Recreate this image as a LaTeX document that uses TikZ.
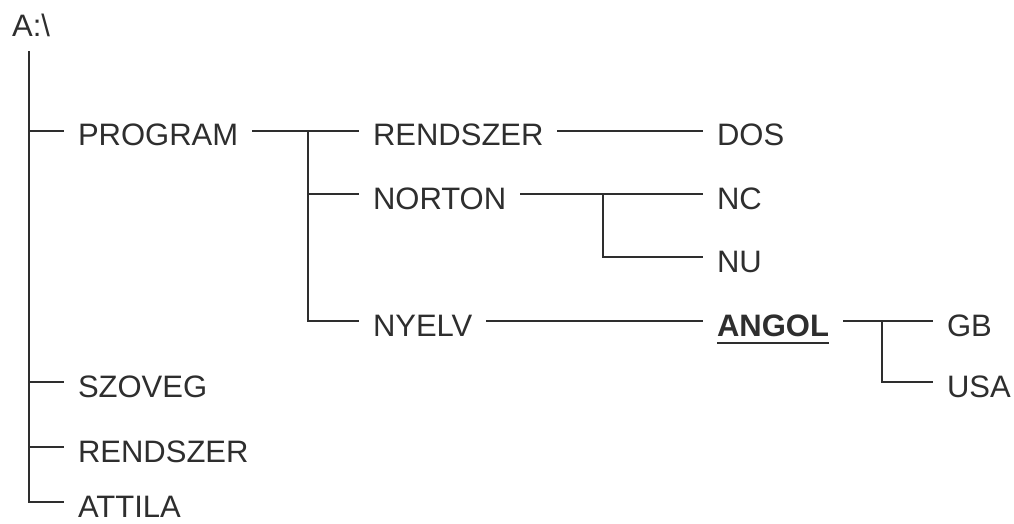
\documentclass[tikz,border=0pt]{standalone}
\usepackage{fontspec}
\setmainfont{Liberation Sans}
\definecolor{ink}{HTML}{2E2E2E}
\begin{document}
\begin{tikzpicture}[x=1pt,y=-1pt,
  dir/.style={anchor=west,inner xsep=15pt,inner ysep=0pt,outer sep=0pt,
    text height=30pt,text depth=0pt,font=\fontsize{31}{36}\selectfont,text=ink},
  conn/.style={draw=ink,line width=2.3pt,line cap=rect}]
\useasboundingbox[fill=white] (0,0) rectangle (1014,524);
% root
\node[anchor=base west,inner sep=0pt,font=\fontsize{31}{36}\selectfont,text=ink] (root) at (12,37) {A:\textbackslash};
\coordinate (rb) at (29,52);
% level 1
\node[dir] (program) at (63,131) {PROGRAM};
\node[dir] (szoveg) at (63,382) {SZOVEG};
\node[dir] (rendszerL) at (63,447) {RENDSZER};
\node[dir] (attila) at (63,502) {ATTILA};
% level 2
\node[dir] (rendszer) at (358,131) {RENDSZER};
\node[dir] (norton) at (358,194) {NORTON};
\node[dir] (nyelv) at (358,321) {NYELV};
\coordinate (pb) at (308,131);
% level 3
\node[dir] (dos) at (702,131) {DOS};
\node[dir] (nc) at (702,194) {NC};
\node[dir] (nu) at (702,257) {NU};
\node[dir,font=\fontsize{31}{36}\selectfont\bfseries] (angol) at (702,321) {ANGOL};
\coordinate (nb) at (603,194);
% level 4
\node[dir] (gb) at (932,321) {GB};
\node[dir] (usa) at (932,382) {USA};
\coordinate (ab) at (882,321);
% connectors
\draw[conn] (rb) |- (attila.west);
\draw[conn] (rb |- program.west) -- (program.west);
\draw[conn] (rb |- szoveg.west) -- (szoveg.west);
\draw[conn] (rb |- rendszerL.west) -- (rendszerL.west);
\draw[conn] (program.east) -- (rendszer.west);
\draw[conn] (pb) |- (nyelv.west);
\draw[conn] (pb |- norton.west) -- (norton.west);
\draw[conn] (rendszer.east) -- (dos.west);
\draw[conn] (norton.east) -- (nc.west);
\draw[conn] (nb) |- (nu.west);
\draw[conn] (nyelv.east) -- (angol.west);
\draw[conn] (angol.east) -- (gb.west);
\draw[conn] (ab) |- (usa.west);
% underline of ANGOL
\draw[draw=ink,line width=2.6pt] ([xshift=15pt,yshift=-7pt]angol.base west) -- ([xshift=-15pt,yshift=-7pt]angol.base east);
\end{tikzpicture}
\end{document}
